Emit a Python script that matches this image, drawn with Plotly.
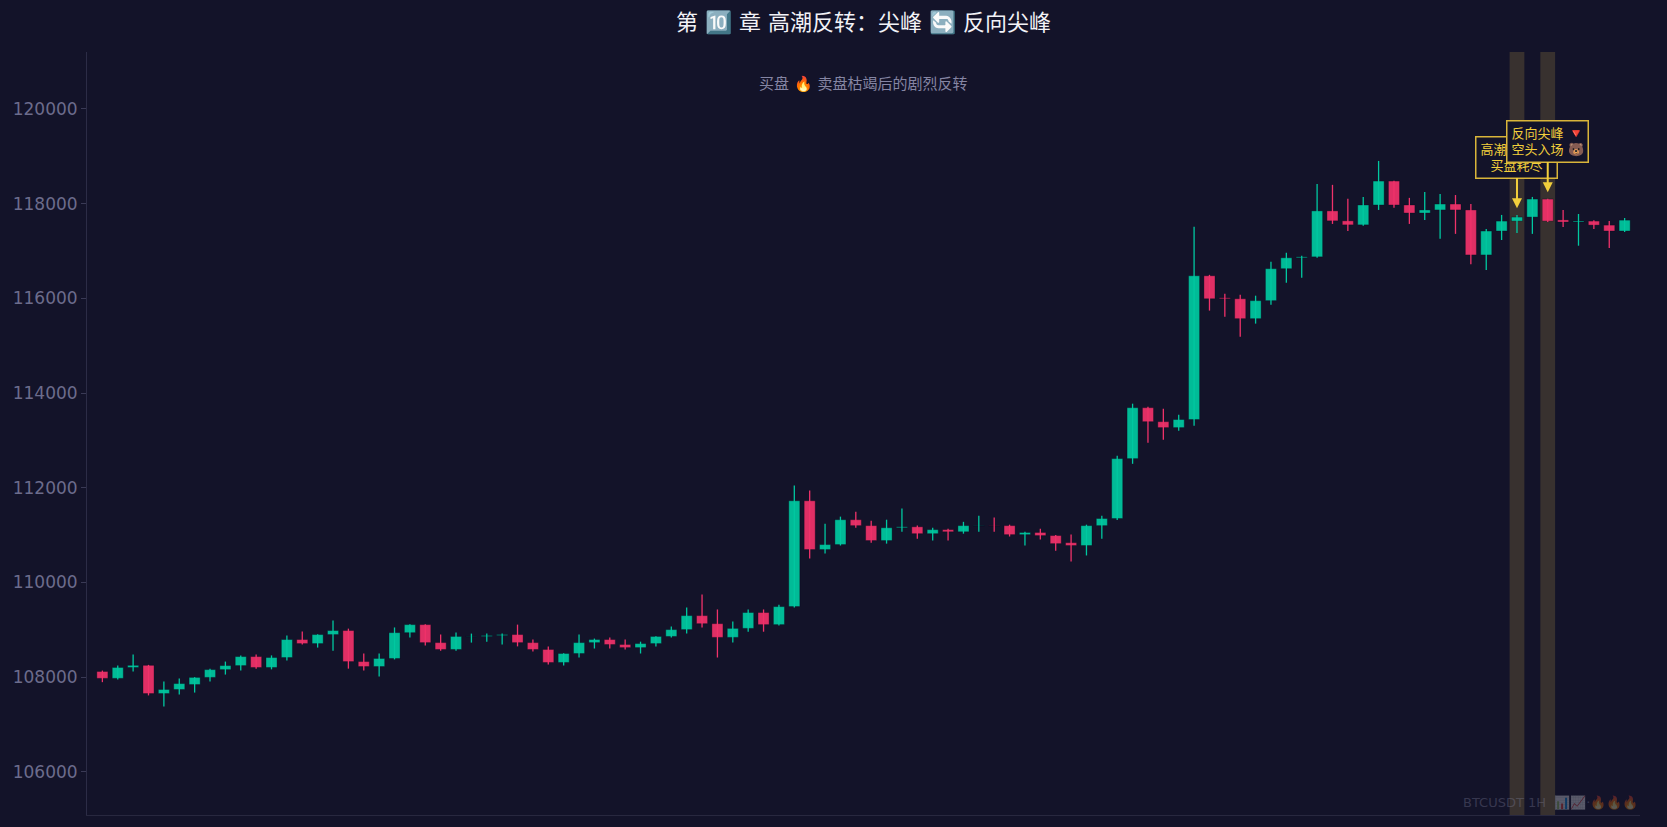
import plotly.graph_objects as go

# hourly candles, index 0..99
idx = list(range(100))
opens = [108120, 107975, 108205, 108250, 107655, 107740, 107845, 107995, 108160, 108245,
         108435, 108205, 108415, 108795, 108710, 108900, 108985, 108330, 108225, 108395,
         108940, 109110, 108730, 108585, 108855, 108860, 108880, 108900, 108730, 108585,
         108310, 108500, 108730, 108795, 108690, 108625, 108710, 108860, 109005, 109300,
         109130, 108840, 109030, 109365, 109110, 109490, 111725, 110695, 110800, 111325,
         111200, 110885, 111155, 111175, 111030, 111115, 111070, 111195, 111200, 111200,
         111010, 111055, 110990, 110840, 110780, 111200, 111350, 112615, 113690, 113395,
         113270, 113440, 116475, 116010, 115990, 115570, 115950, 116625, 116855, 116875,
         117845, 117635, 117550, 117970, 118475, 117970, 117800, 117865, 117990, 117865,
         116915, 117420, 117630, 117715, 118095, 117655, 117610, 117630, 117545, 117420]
highs = [108140, 108245, 108480, 108260, 107910, 107970, 108000, 108180, 108330, 108460,
         108480, 108460, 108880, 108965, 108905, 109195, 109025, 108500, 108500, 109050,
         109115, 109120, 108900, 108945, 108920, 108920, 108920, 109110, 108795, 108650,
         108505, 108900, 108815, 108840, 108795, 108750, 108865, 109070, 109470, 109745,
         109430, 109175, 109430, 109430, 109530, 112045, 111940, 111240, 111390, 111495,
         111305, 111325, 111560, 111200, 111155, 111135, 111280, 111410, 111370, 111220,
         111070, 111135, 111000, 111010, 111220, 111410, 112675, 113775, 113710, 113670,
         113540, 117510, 116495, 116095, 116075, 116055, 116770, 116960, 116900, 118415,
         118395, 118100, 118140, 118900, 118480, 118120, 118245, 118200, 118180, 117990,
         117465, 117760, 117760, 118140, 118100, 117865, 117780, 117650, 117630, 117695]
lows = [107895, 107950, 108120, 107615, 107380, 107635, 107675, 107910, 108055, 108140,
        108180, 108165, 108350, 108690, 108625, 108560, 108180, 108140, 108015, 108375,
        108840, 108670, 108560, 108560, 108730, 108750, 108690, 108650, 108540, 108270,
        108245, 108415, 108605, 108605, 108585, 108500, 108650, 108840, 108920, 109050,
        108415, 108730, 108960, 108960, 109090, 109470, 110505, 110610, 110780, 111155,
        110840, 110820, 111070, 110925, 110885, 110885, 111030, 111070, 111070, 110970,
        110780, 110905, 110670, 110440, 110570, 110925, 111320, 112505, 112950, 113015,
        113205, 113310, 115740, 115610, 115190, 115465, 115865, 116330, 116435, 116855,
        117570, 117420, 117530, 117865, 117910, 117570, 117655, 117255, 117360, 116720,
        116595, 117230, 117380, 117360, 117610, 117505, 117110, 117465, 117060, 117400]
closes = [107975, 108205, 108250, 107655, 107740, 107865, 107995, 108160, 108245, 108435,
          108205, 108415, 108795, 108710, 108900, 108985, 108330, 108225, 108395, 108940,
          109110, 108730, 108585, 108860, 108860, 108880, 108900, 108730, 108585, 108310,
          108500, 108730, 108795, 108690, 108625, 108710, 108860, 109005, 109300, 109130,
          108840, 109030, 109365, 109110, 109490, 111725, 110695, 110800, 111325, 111200,
          110885, 111155, 111175, 111030, 111115, 111070, 111200, 111200, 111195, 111010,
          111055, 110990, 110820, 110780, 111200, 111350, 112615, 113690, 113395, 113270,
          113440, 116475, 115990, 115990, 115570, 115950, 116625, 116855, 116875, 117845,
          117635, 117550, 117970, 118475, 117970, 117800, 117865, 117990, 117865, 116915,
          117420, 117630, 117715, 118095, 117630, 117610, 117630, 117545, 117420, 117650]

peak_idx = 92
reverse_idx = 94

title_text = "第 🔟 章 高潮反转：尖峰 🔄 反向尖峰"
subtitle_text = "买盘 🔥 卖盘枯竭后的剧烈反转"
peak_label = "高潮尖峰 🔥<br>买盘耗尽"
reverse_label = "反向尖峰 🔻<br>空头入场 🐻"
watermark = "BTCUSDT 1H  📊📈·🔥🔥🔥"

BG = "#131329"
UP = "#00c8a0"
DOWN = "#f0326a"
GOLD = "#f2cf3c"
FONT = "DejaVu Sans, Noto Sans CJK SC, sans-serif"

fig = go.Figure()

for up, color in [(True, UP), (False, DOWN)]:
    sel = [i for i in idx if (closes[i] > opens[i]) == up]
    wx, wy = [], []
    for i in sel:
        wx += [i, i, None]
        wy += [lows[i], highs[i], None]
    fig.add_trace(go.Scatter(x=wx, y=wy, mode="lines", line=dict(color=color, width=1.3),
                             hoverinfo="skip", showlegend=False))
    fig.add_trace(go.Bar(
        x=sel,
        y=[abs(closes[i] - opens[i]) for i in sel],
        base=[min(opens[i], closes[i]) for i in sel],
        width=0.72,
        marker=dict(color=color, line=dict(color="rgba(10,10,30,0.35)", width=1)),
        opacity=0.93,
        showlegend=False,
    ))

for i in [peak_idx, reverse_idx]:
    fig.add_vrect(x0=i - 0.48, x1=i + 0.48, fillcolor="rgba(255,210,80,0.16)",
                  line_width=0, layer="below")

for i, label in [(peak_idx, peak_label), (reverse_idx, reverse_label)]:
    fig.add_annotation(
        x=i, y=highs[i] + 140, text=label, showarrow=True,
        arrowhead=2, arrowsize=1, arrowwidth=2, arrowcolor=GOLD,
        ax=0, ay=-51, font=dict(size=13, color=GOLD, family=FONT),
        bgcolor=BG, bordercolor="#d9b53a", borderwidth=1.5, borderpad=4,
    )

fig.add_annotation(x=0.5, y=0.972, xref="paper", yref="paper", text=subtitle_text,
                   showarrow=False, font=dict(size=15, color="#8585a3", family=FONT))
fig.add_annotation(x=1, y=0, xref="paper", yref="paper", xanchor="right", yanchor="bottom",
                   yshift=3, text=watermark, showarrow=False, opacity=0.3,
                   font=dict(size=13, color="#8a8aa8", family=FONT))

fig.update_layout(
    width=1667, height=827,
    title=dict(text=title_text, x=0.5, xref="paper", y=0.9725, yanchor="middle",
               font=dict(size=22, color="#f2f2f7", family=FONT)),
    paper_bgcolor=BG, plot_bgcolor=BG,
    margin=dict(l=87, r=27, t=52, b=12),
    barmode="overlay",
    font=dict(family=FONT),
    showlegend=False,
    xaxis=dict(range=[-1, 100], showgrid=False, zeroline=False, showticklabels=False,
               showline=True, linecolor="#28283f"),
    yaxis=dict(range=[105090, 121200], dtick=2000, tickformat="d", showgrid=False,
               zeroline=False, showline=True, linecolor="#2c2c46", ticks="outside",
               ticklen=5, tickcolor="#3a3a55", tickfont=dict(size=17, color="#6c6c8c")),
)

fig.write_html("out.html", config={"displayModeBar": False},
               post_script="document.body.style.margin='0';")
